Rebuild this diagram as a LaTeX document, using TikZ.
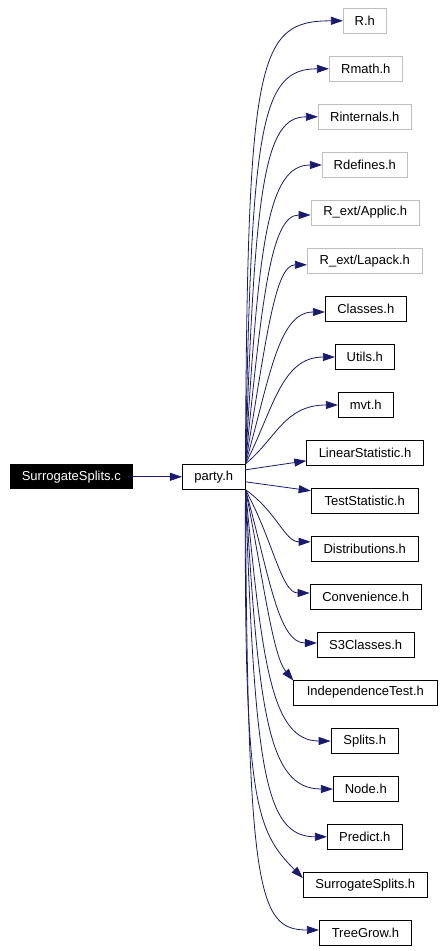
\documentclass[tikz,border=0pt]{standalone}
\usepackage{fontspec}
\setmainfont{Liberation Sans}
\usetikzlibrary{arrows.meta,calc}
\definecolor{edgec}{HTML}{191970}
\definecolor{greyb}{HTML}{BFBFBF}
\tikzset{
 box/.style={draw=black, line width=0.8pt, minimum height=25pt, inner sep=0pt, font=\fontsize{13}{15}\selectfont, text=black},
 ext/.style={box, draw=greyb},
 root/.style={box, fill=black, text=white},
 edge/.style={draw=edgec, line width=0.8pt, -{Triangle[length=12pt,width=8pt]}}
}
\newcommand\upedge[2][0]{%
 \draw[edge] let \p1=(party.north east), \p2=($(#2.west)+(0,#1)$), \n1={\y2-(\y1)}, \n2={443-\n1} in
  (\p1) .. controls ({\x1+(2+0.0761*\n2)*1pt}, {\y2-(0.08+0.001246*\n2)*\n1}) and ({\x1+(12+0.07*\n2)*1pt},\y2) .. (\p2);}
\newcommand\downedge[2][0]{%
 \draw[edge] let \p1=(party.south east), \p2=($(#2.west)+(0,#1)$), \n1={\y1-(\y2)}, \n2={443-\n1} in
  (\p1) .. controls ({\x1+(2+0.0761*\n2)*1pt}, {\y2+(0.08+0.001246*\n2)*\n1}) and ({\x1+(12+0.07*\n2)*1pt},\y2) .. (\p2);}
\begin{document}
\begin{tikzpicture}[x=1pt,y=-1pt]
\useasboundingbox (0,0) rectangle (444,951);
\fill[white] (0,0) rectangle (444,951);
\node[root, minimum width=122.7pt, minimum height=24pt] (src) at (71.3,476.8) {SurrogateSplits.c};
\node[box, minimum width=62.7pt] (party) at (213.7,476.8) {party.h};
\node[ext, minimum width=43pt] (rh) at (364.8,20.8) {R.h};
\node[ext, minimum width=73pt] (rmath) at (365.8,68.8) {Rmath.h};
\node[ext, minimum width=93pt] (rint) at (364.8,116.8) {Rinternals.h};
\node[ext, minimum width=85pt] (rdef) at (364.8,165) {Rdefines.h};
\node[ext, minimum width=108.3pt] (rapp) at (365.2,212.5) {R\_ext/Applic.h};
\node[ext, minimum width=115pt] (rlap) at (364.8,260.8) {R\_ext/Lapack.h};
\node[box, minimum width=81pt] (cls) at (365.8,309) {Classes.h};
\node[box, minimum width=59pt] (utl) at (364.8,357) {Utils.h};
\node[box, minimum width=55pt] (mvt) at (365.8,405) {mvt.h};
\node[box, minimum width=116.6pt] (lin) at (365,452.8) {LinearStatistic.h};
\node[box, minimum width=107.3pt] (tst) at (364.7,500.8) {TestStatistic.h};
\node[box, minimum width=107.3pt] (dst) at (364.7,548.8) {Distributions.h};
\node[box, minimum width=111.3pt] (cnv) at (365.7,597) {Convenience.h};
\node[box, minimum width=96.7pt] (s3c) at (365.7,645) {S3Classes.h};
\node[box, minimum width=144pt] (ind) at (365.3,692.5) {IndependenceTest.h};
\node[box, minimum width=67.3pt] (spl) at (364.7,741) {Splits.h};
\node[box, minimum width=65pt] (nod) at (365.8,789) {Node.h};
\node[box, minimum width=75pt] (prd) at (364.8,836.8) {Predict.h};
\node[box, minimum width=124pt] (sgh) at (365.3,885) {SurrogateSplits.h};
\node[box, minimum width=92.4pt] (tgr) at (365.5,933) {TreeGrow.h};
\draw[edge] (src) -- (party);
\upedge{rh}
\upedge{rmath}
\upedge{rint}
\upedge{rdef}
\upedge[2.5]{rapp}
\upedge[4]{rlap}
\upedge[3]{cls}
\upedge{utl}
\upedge{mvt}
\draw[edge] ($(party.east)+(0,-7)$) -- ($(lin.west)+(0,8)$);
\draw[edge] ($(party.east)+(0,5)$) -- ($(tst.west)+(0,-10)$);
\downedge[-7]{dst}
\downedge[-4]{cnv}
\downedge[-2]{s3c}
\draw[edge] (party.south east) .. controls (262,570) and (272,655) .. ($(ind.north west)+(0.5,1)$);
\downedge{spl}
\downedge{nod}
\downedge{prd}
\draw[edge] (party.south east) .. controls (244,800) and (255,830) .. ($(sgh.north west)+(0,6)$);
\downedge[-3]{tgr}
\end{tikzpicture}
\end{document}
